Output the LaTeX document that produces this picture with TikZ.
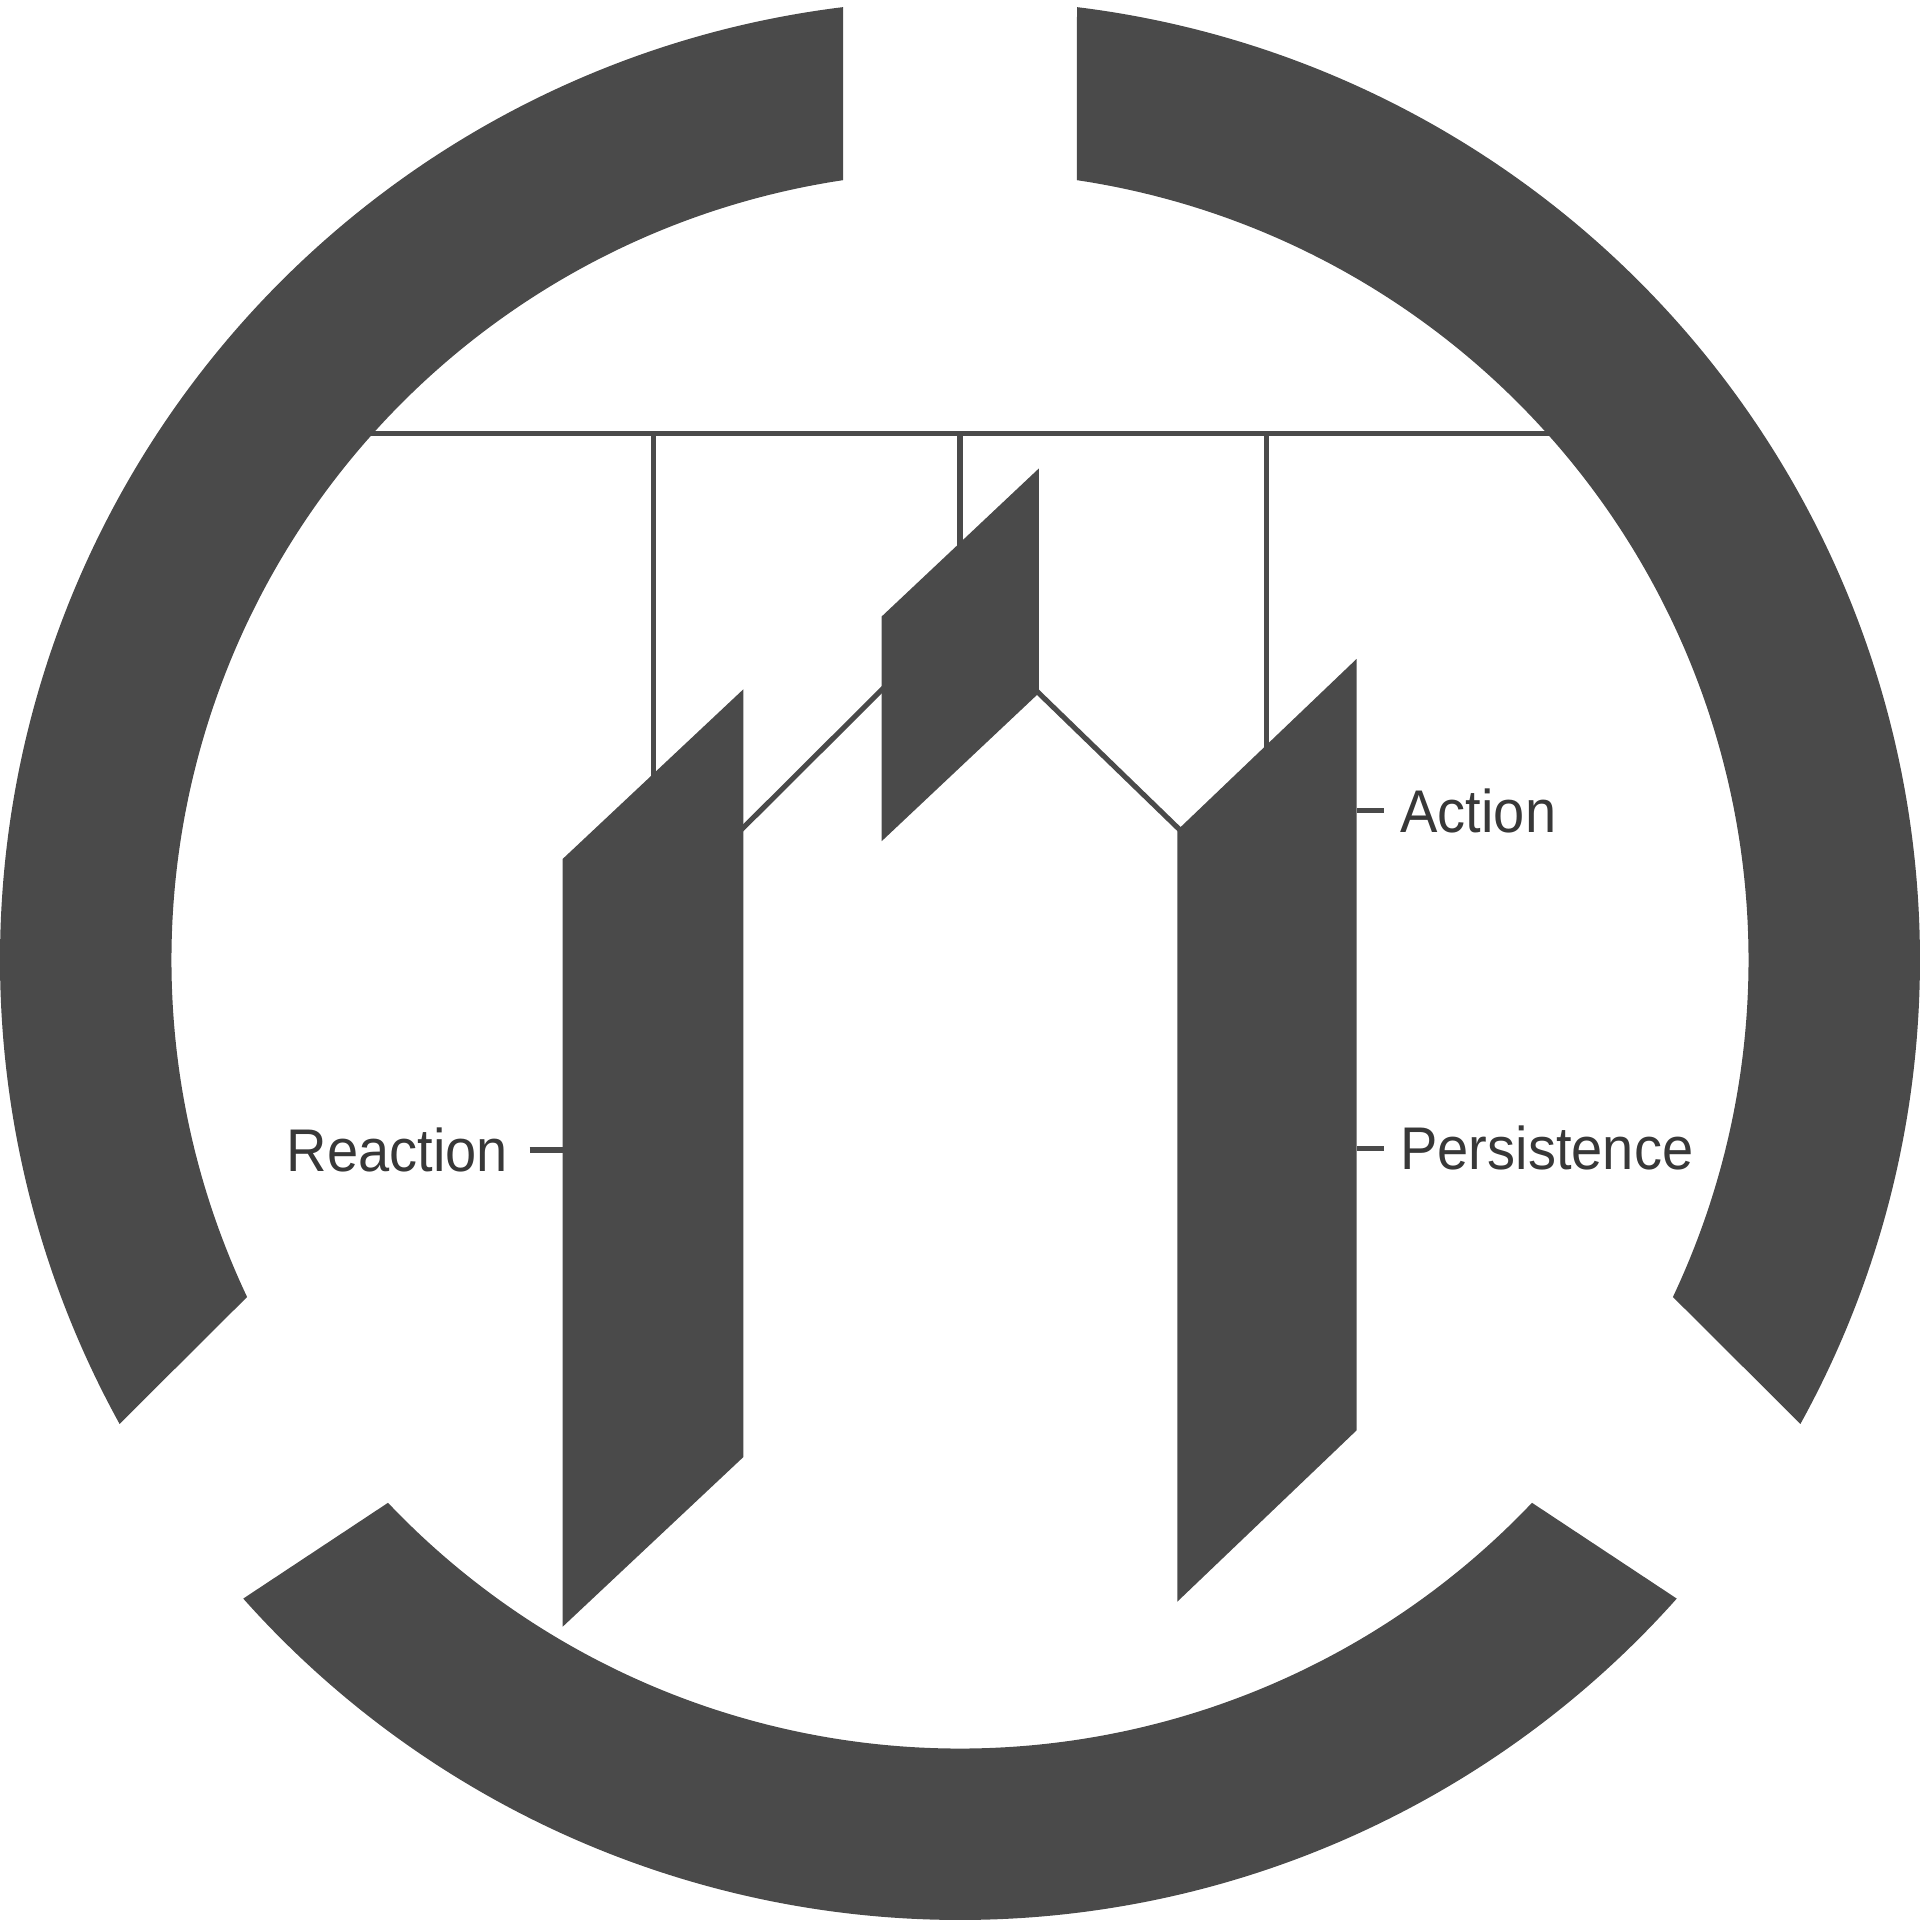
\documentclass[tikz,border=0pt]{standalone}
\usepackage{fontspec}
\setmainfont{Liberation Sans}[FakeStretch=0.93]
\usepackage{tikz}
\usetikzlibrary{positioning}
\definecolor{inkgray}{HTML}{4A4A4A}
\definecolor{textgray}{HTML}{383838}

\begin{document}
\begin{tikzpicture}[
	block/.style={fill=inkgray},
	wire/.style={draw=inkgray, line width=1.2pt},
	tag/.style={text=textgray, font=\fontsize{14}{16}\selectfont, inner ysep=0pt}]

	\useasboundingbox (-7.84,-7.84) rectangle (7.84,7.84);
	% Rail %
	\coordinate (railL) at (-5,4.3);
	\coordinate (railR) at (5,4.3);
	\draw [wire] (railL) -- (railR);
	% Hangers %
	\foreach \x/\y in {-2.505/1.4, 0/3.3, 2.505/1.6} \draw [wire] (\x,4.3) -- (\x,\y);
	% Links %
	\draw [wire] (-1.85,1.0) -- (-0.56,2.285);
	\draw [wire] (0.55,2.27) -- (1.86,1.0);
	% Blades %
	\fill [block] (-3.245,0.825) -- (-1.77,2.21) -- (-1.77,-4.06) -- (-3.245,-5.445) -- cycle;
	\fill [block] (-0.64,2.805) -- (0.645,4.015) -- (0.645,2.18) -- (-0.64,0.97) -- cycle;
	\fill [block] (1.775,1.06) -- (3.24,2.46) -- (3.24,-3.84) -- (1.775,-5.24) -- cycle;
	% Ring %
	\fill [block] (97.0:7.84) arc [start angle=97.0, end angle=208.9, radius=7.84] -- (205.3:6.44) arc [start angle=205.3, end angle=98.53, radius=6.44] -- cycle;
	\fill [block] (221.7:7.84) arc [start angle=221.7, end angle=318.3, radius=7.84] -- (316.5:6.44) arc [start angle=316.5, end angle=223.5, radius=6.44] -- cycle;
	\fill [block] (-28.9:7.84) arc [start angle=-28.9, end angle=83.0, radius=7.84] -- (81.47:6.44) arc [start angle=81.47, end angle=-25.3, radius=6.44] -- cycle;
	% Labels %
	\coordinate (lparW) at (-3.245,-1.552);
	\coordinate (rparA) at (3.24,1.22);
	\coordinate (rparP) at (3.24,-1.538);
	\node [tag, left=2.7mm of lparW, inner xsep=1.7mm] (reaction) {Reaction};
	\node [tag, right=2.2mm of rparA, inner xsep=1.3mm] (action) {Action};
	\node [tag, right=2.2mm of rparP, inner xsep=1.3mm] (persistence) {Persistence};
	\draw [wire] (reaction) -- (lparW);
	\draw [wire] (action) -- (rparA);
	\draw [wire] (persistence) -- (rparP);
\end{tikzpicture}
\end{document}
